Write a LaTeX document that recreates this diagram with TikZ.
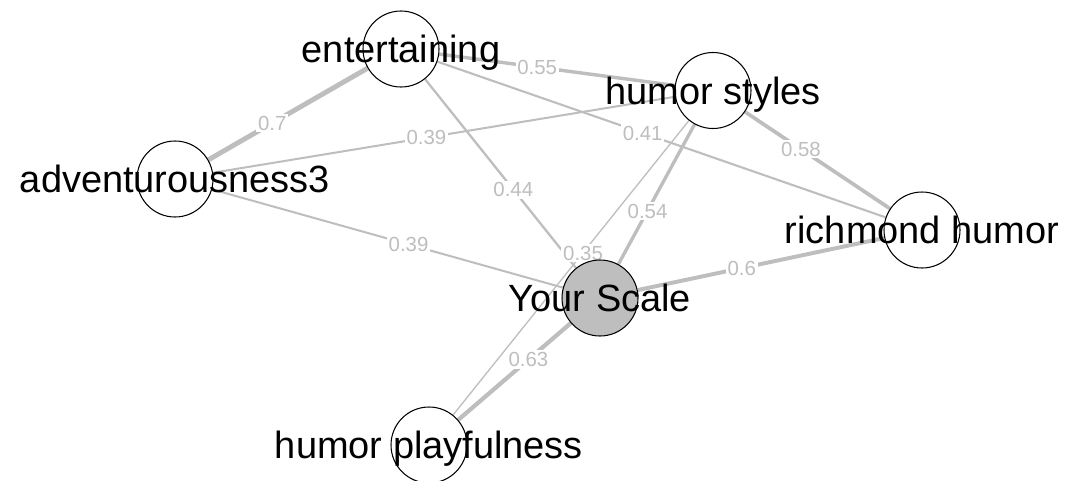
\documentclass[tikz,border=0pt]{standalone}
\usepackage{fontspec}
\setmainfont{Liberation Sans}
\definecolor{edgegray}{RGB}{190,190,190}
\tikzstyle{var} = [draw, circle, fill=white, line width=0.6pt, minimum size=1.52cm, inner sep=0pt]
\tikzstyle{varname} = [font=\fontsize{21.6}{24}\selectfont, text height=15.5pt, text depth=0pt, inner sep=0pt]
\tikzstyle{link} = [draw=edgegray]
\tikzstyle{weight} = [fill=white, text=edgegray, font=\fontsize{11.6}{13}\selectfont, text height=8.3pt, text depth=0pt, inner sep=1pt]
\pgfdeclarelayer{bg}
\pgfsetlayers{bg,main}

\begin{document}
\begin{tikzpicture}
\useasboundingbox (0,0) rectangle (21.36,9.6);

%% Variables %%
\node [var, label={[varname]center:entertaining}] (Entertaining) at (8.02,8.62) {};
\node [var, label={[varname]center:humor styles}] (HumorStyles) at (14.26,7.79) {};
\node [var, label={[varname]center:adventurousness3}] (Adventurousness) at (3.50,6.02) {};
\node [var, label={[varname]center:richmond humor}] (Richmond) at (18.44,5.00) {};
\node [var, fill=edgegray, label={[varname]center:Your Scale}] (YourScale) at (12.00,3.64) {};
\node [var, label={[varname]center:humor playfulness}] (Playfulness) at (8.58,0.70) {};

%% Correlations %%
\begin{pgfonlayer}{bg}
\draw[link, line width=2.8pt] (Adventurousness) -- node[weight, pos=0.401] {0.7} (Entertaining);
\draw[link, line width=1.95pt] (Entertaining) -- node[weight, pos=0.416] {0.55} (HumorStyles);
\draw[link, line width=1.15pt] (Adventurousness) -- node[weight, pos=0.462] {0.39} (HumorStyles);
\draw[link, line width=1.2pt] (Entertaining) -- node[weight, pos=0.458] {0.41} (Richmond);
\draw[link, line width=1.3pt] (Entertaining) -- node[weight, pos=0.585] {0.44} (YourScale);
\draw[link, line width=2.1pt] (HumorStyles) -- node[weight, pos=0.385] {0.58} (Richmond);
\draw[link, line width=1.9pt] (YourScale) -- node[weight, pos=0.382] {0.54} (HumorStyles);
\draw[link, line width=0.75pt] (HumorStyles) -- node[weight, pos=0.449] {0.35} (Playfulness);
\draw[link, line width=2.25pt] (YourScale) -- node[weight, pos=0.422] {0.6} (Richmond);
\draw[link, line width=1.15pt] (Adventurousness) -- node[weight, pos=0.56] {0.39} (YourScale);
\draw[link, line width=2.4pt] (YourScale) -- node[weight, pos=0.376] {0.63} (Playfulness);
\end{pgfonlayer}

\end{tikzpicture}
\end{document}
